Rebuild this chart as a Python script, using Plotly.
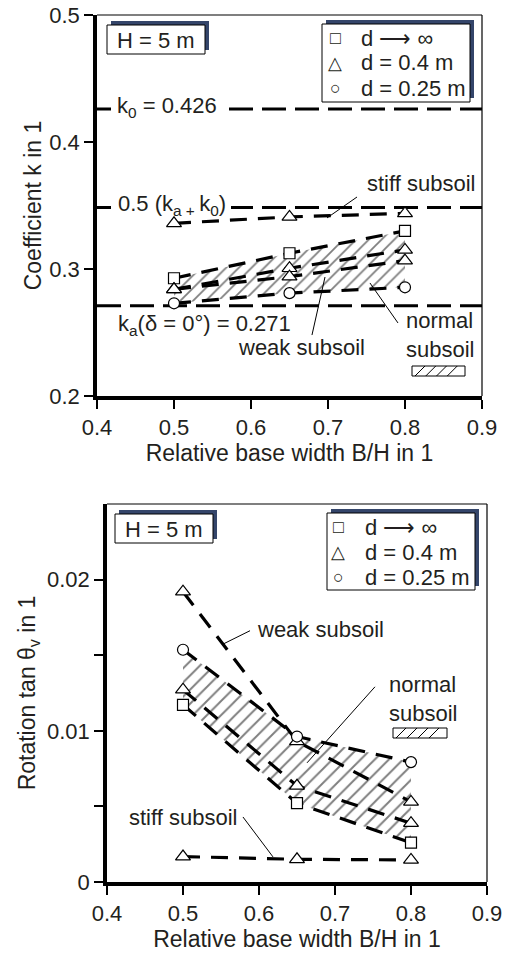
import plotly.graph_objects as go

# ---------------- data ----------------
bw = [0.5, 0.65, 0.8]                      # relative base width B/H

# top chart: coefficient k
k_sq = [0.2927, 0.3124, 0.330]             # d -> inf
k_tri_upper = [0.284, 0.3006, 0.315]       # d = 0.4 m
k_tri_lower = [0.284, 0.294, 0.3066]       # d = 0.4 m
k_circ = [0.273, 0.281, 0.2856]            # d = 0.25 m
k_stiff = [0.336, 0.341, 0.3438]           # stiff subsoil, d = 0.4 m
k_ref_names = ["k0", "mid", "ka"]
k_ref_vals = [0.426, 0.3485, 0.271]
ref_x = [0.4, 0.9]

# bottom chart: rotation tan theta_v
r_weak = [0.0192, 0.0093, 0.0053]          # weak subsoil, d = 0.4 m
r_circ = [0.01536, 0.00962, 0.00793]       # d = 0.25 m
r_tri = [0.01272, 0.00636, 0.00389]        # d = 0.4 m
r_sq = [0.01172, 0.00521, 0.0026]          # d -> inf
r_stiff = [0.00168, 0.0015, 0.00146]       # stiff subsoil

x_tickvals = [0.4, 0.5, 0.6, 0.7, 0.8, 0.9]
x_ticktext = ["0.4", "0.5", "0.6", "0.7", "0.8", "0.9"]
k_tickvals = [0.2, 0.3, 0.4, 0.5]
k_ticktext = ["0.2", "0.3", "0.4", "0.5"]
r_tickvals = [0, 0.01, 0.02]
r_ticktext = ["0", "0.01", "0.02"]
r_minor_tickvals = [0.005, 0.015]

# ---------------- styling ----------------
W, H = 512, 955
FONT = "Liberation Sans, Arial, Helvetica, sans-serif"
TXT = "#231f20"
SHADOW = "#34456a"


def px(x):
    return x / W


def py(y):
    return 1 - y / H


fig = go.Figure()

DASH_DATA = "17px,11px"
DASH_REF = "24px,9px"


def add_hatch(x, upper, lower, xa, ya, size):
    fig.add_trace(go.Scatter(
        x=list(x) + list(x)[::-1], y=list(upper) + list(lower)[::-1],
        xaxis=xa, yaxis=ya, mode="lines", fill="toself",
        line=dict(width=0, color="rgba(0,0,0,0)"), fillcolor="white",
        fillpattern=dict(shape="/", fgcolor="black", bgcolor="white",
                         size=size, solidity=0.2),
        hoverinfo="skip", showlegend=False))


def add_line(x, y, xa, ya, dash=DASH_DATA, width=3.2):
    fig.add_trace(go.Scatter(
        x=x, y=y, xaxis=xa, yaxis=ya, mode="lines",
        line=dict(color="black", width=width, dash=dash),
        hoverinfo="skip", showlegend=False))


def add_markers(x, y, xa, ya, symbol, size):
    fig.add_trace(go.Scatter(
        x=x, y=y, xaxis=xa, yaxis=ya, mode="markers",
        marker=dict(symbol=symbol, size=size, color="white",
                    line=dict(color="black", width=1.2)),
        cliponaxis=False, hoverinfo="skip", showlegend=False))


# ---- top chart ----
add_hatch(bw, k_sq, k_circ, "x", "y", 9)
for v in k_ref_vals:
    add_line(ref_x, [v, v], "x", "y", dash=DASH_REF, width=3)
for series in [k_stiff, k_sq, k_tri_upper, k_tri_lower, k_circ]:
    add_line(bw, series, "x", "y")
add_markers(bw, k_sq, "x", "y", "square", 11)
add_markers(bw, k_stiff, "x", "y", "triangle-up", 13)
add_markers(bw, k_tri_upper, "x", "y", "triangle-up", 13)
add_markers(bw, k_tri_lower, "x", "y", "triangle-up", 13)
add_markers(bw, k_circ, "x", "y", "circle", 11)

# ---- bottom chart ----
add_hatch(bw, r_circ, r_sq, "x2", "y2", 10)
for series in [r_weak, r_circ, r_tri, r_sq, r_stiff]:
    add_line(bw, series, "x2", "y2")
add_markers(bw, r_sq, "x2", "y2", "square", 11)
add_markers(bw, r_weak, "x2", "y2", "triangle-up", 13)
add_markers(bw, r_tri, "x2", "y2", "triangle-up", 13)
add_markers(bw, r_stiff, "x2", "y2", "triangle-up", 13)
add_markers(bw, r_circ, "x2", "y2", "circle", 11)

# ---------------- axes ----------------
axis_common = dict(
    showgrid=False, zeroline=False, showline=True, linecolor="black",
    linewidth=3.5, ticks="outside", ticklen=9, tickwidth=1.5,
    tickcolor="black", tickfont=dict(family=FONT, size=22, color=TXT),
    fixedrange=True, automargin=False,
)
title_font = dict(family=FONT, size=23, color=TXT)

fig.update_layout(
    xaxis=dict(axis_common, domain=[px(97), px(482)], range=[0.4, 0.9],
               anchor="y", tickvals=x_tickvals, ticktext=x_ticktext,
               title=dict(text="Relative base width B/H in 1",
                          font=title_font, standoff=4)),
    yaxis=dict(axis_common, domain=[py(396), py(15)], range=[0.2, 0.5],
               anchor="x", tickvals=k_tickvals, ticktext=k_ticktext,
               title=dict(text="Coefficient k in 1", font=title_font,
                          standoff=2)),
    xaxis2=dict(axis_common, domain=[px(107), px(487)], range=[0.4, 0.9],
                anchor="y2", tickvals=x_tickvals, ticktext=x_ticktext,
                title=dict(text="Relative base width B/H in 1",
                           font=title_font, standoff=4)),
    yaxis2=dict(axis_common, domain=[py(882), py(504)], range=[0, 0.025],
                anchor="x2", tickvals=r_tickvals, ticktext=r_ticktext,
                minor=dict(tickvals=r_minor_tickvals, ticks="outside",
                           ticklen=9, tickwidth=1.5, tickcolor="black",
                           showgrid=False),
                title=dict(text="Rotation tan θ<sub>v</sub> in 1",
                           font=title_font, standoff=6)),
)

shapes = []
# thin top/right frame lines
for xr, yr in [("x domain", "y domain"), ("x2 domain", "y2 domain")]:
    shapes.append(dict(type="line", xref=xr, yref=yr, x0=0, x1=1, y0=1, y1=1,
                       line=dict(color="black", width=1.2)))
    shapes.append(dict(type="line", xref=xr, yref=yr, x0=1, x1=1, y0=0, y1=1,
                       line=dict(color="black", width=1.2)))


def mask(x0, x1, yc, half=5):
    # white strip that interrupts a dashed reference line behind its label
    shapes.append(dict(type="rect", xref="paper", yref="paper",
                       x0=px(x0), x1=px(x1), y0=py(yc + half), y1=py(yc - half),
                       fillcolor="white", line=dict(width=0)))


def shadow_box(x0, y0, x1, y1, dx=4, dy=-4):
    shapes.append(dict(type="rect", xref="paper", yref="paper",
                       x0=px(x0 + dx), x1=px(x1 + dx), y0=py(y1 + dy), y1=py(y0 + dy),
                       fillcolor=SHADOW, line=dict(width=0)))
    shapes.append(dict(type="rect", xref="paper", yref="paper",
                       x0=px(x0), x1=px(x1), y0=py(y1), y1=py(y0),
                       fillcolor="white", line=dict(color="black", width=1)))


def hatch_key(x0, y0, x1, y1, n=4):
    shapes.append(dict(type="rect", xref="paper", yref="paper",
                       x0=px(x0), x1=px(x1), y0=py(y1), y1=py(y0),
                       fillcolor="white", line=dict(color="black", width=1)))
    h = y1 - y0
    step = (x1 - x0 - h) / n
    for i in range(n):
        xs = x0 + 3 + i * step
        shapes.append(dict(type="line", xref="paper", yref="paper",
                           x0=px(xs), x1=px(xs + h), y0=py(y1), y1=py(y0),
                           line=dict(color="black", width=1)))


mask(111, 221, 108.5)
mask(111, 231, 207.5)

# boxes
shadow_box(107, 25, 205, 54)
shadow_box(322, 24, 470, 102)
shadow_box(115, 514, 213, 543)
shadow_box(327, 513, 475, 590)
hatch_key(412, 366, 465, 376)
hatch_key(393, 728, 447, 738)


# leader lines (data coordinates)
def leader(xa, ya, x0, y0, x1, y1):
    shapes.append(dict(type="line", xref=xa, yref=ya, x0=x0, y0=y0, x1=x1, y1=y1,
                       line=dict(color="black", width=1)))


leader("x", "y", 0.6987, 0.3402, 0.7377, 0.3567)   # stiff
leader("x", "y", 0.6792, 0.2480, 0.6961, 0.2937)   # weak
leader("x", "y", 0.7909, 0.2575, 0.7545, 0.2890)   # normal
leader("x2", "y2", 0.5882, 0.01662, 0.5513, 0.01570)  # weak
leader("x2", "y2", 0.7526, 0.01291, 0.6632, 0.00788)  # normal
leader("x2", "y2", 0.5789, 0.00430, 0.6184, 0.00166)  # stiff

fig.update_layout(shapes=shapes)

ann = []


def text(x, y, s, xref="paper", yref="paper", size=22, xanchor="left",
         yanchor="middle", align="left", yshift=0):
    ann.append(dict(x=x, y=y, xref=xref, yref=yref, text=s, showarrow=False,
                    xanchor=xanchor, yanchor=yanchor, align=align, yshift=yshift,
                    font=dict(family=FONT, size=size, color=TXT)))


# top chart labels
text(0.4235, k_ref_vals[0], "k<sub>0</sub> = 0.426", "x", "y", yshift=2)
text(0.4247, k_ref_vals[1], "0.5 (k<sub>a + </sub>k<sub>0</sub>)", "x", "y", yshift=2)
text(0.4247, 0.2559, "k<sub>a</sub>(δ = 0°) = 0.271", "x", "y")
text(0.748, 0.3677, "stiff subsoil", "x", "y")
text(0.5805, 0.2378, "weak subsoil", "x", "y")
text(0.7987, 0.2480, "normal<br>subsoil", "x", "y")
# bottom chart labels
text(0.5947, 0.01669, "weak subsoil", "x2", "y2")
text(0.7684, 0.01212, "normal<br>subsoil", "x2", "y2")
text(0.4263, 0.00424, "stiff subsoil", "x2", "y2")

# H = 5 m
text(px(156), py(40), "H = 5 m", xanchor="center")
text(px(164), py(529), "H = 5 m", xanchor="center")

# legends
leg_labels = ["d ⟶ ∞", "d = 0.4 m", "d = 0.25 m"]
leg_syms = ["□", "△", "○"]
for (lx, tx, rows) in [(335, 359, [38, 63, 88]), (338, 363, [527, 552, 577])]:
    for sym, lab, ry in zip(leg_syms, leg_labels, rows):
        text(px(lx), py(ry), sym, size=18, xanchor="center")
        text(px(tx), py(ry), lab, size=22)

fig.update_layout(
    annotations=ann,
    width=W, height=H,
    margin=dict(l=0, r=0, t=0, b=0),
    paper_bgcolor="white", plot_bgcolor="white",
    showlegend=False,
    font=dict(family=FONT, color=TXT),
)

fig.write_html("out.html", config={"displayModeBar": False})
